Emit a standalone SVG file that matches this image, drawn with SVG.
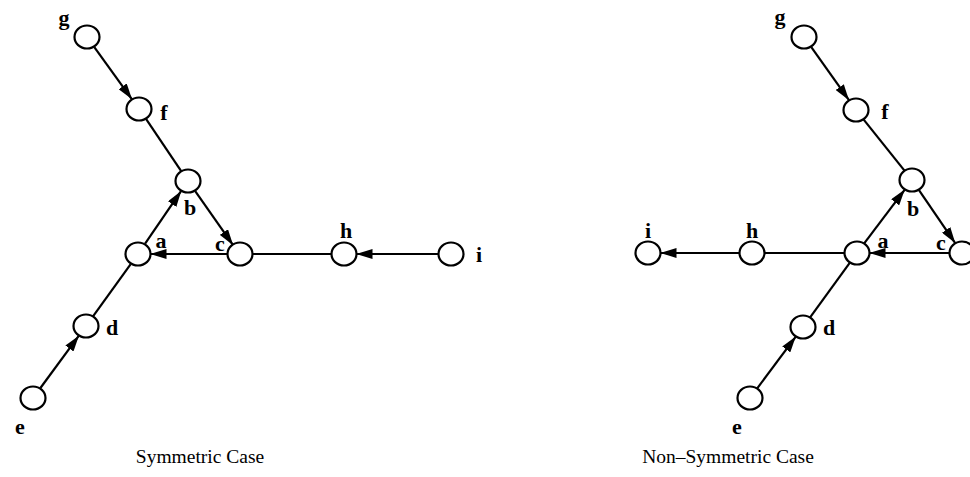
<svg xmlns="http://www.w3.org/2000/svg" width="970" height="477" viewBox="0 0 970 477">
<style>
.n{fill:#fff;stroke:#000;stroke-width:2.2}
.e{stroke:#000;stroke-width:2.2;fill:none}
.a{marker-end:url(#ah)}
.l{font-family:"Liberation Serif","Times New Roman",serif;font-weight:bold;font-size:22px;text-anchor:middle;fill:#000}
.cap{font-family:"Liberation Serif","Times New Roman",serif;font-size:19.5px;text-anchor:middle;fill:#000}
</style>
<defs>
<marker id="ah" markerUnits="userSpaceOnUse" markerWidth="16" markerHeight="10" refX="16" refY="5" orient="auto">
<path d="M0,0 L16,5 L0,10 z" fill="#000"/>
</marker>
</defs>
<rect width="970" height="477" fill="#fff"/>
<g id="connectors">
<line class="e a" x1="94.3" y1="47.1" x2="132" y2="99.3"/>
<line class="e" x1="146" y1="118.9" x2="181.2" y2="171.1"/>
<line class="e a" x1="195.2" y1="191.2" x2="233.1" y2="245.2"/>
<line class="e a" x1="227.5" y1="254" x2="150.5" y2="254"/>
<line class="e a" x1="145.1" y1="243.7" x2="181.2" y2="190.9"/>
<line class="e" x1="130.7" y1="264.1" x2="93" y2="316.3"/>
<line class="e a" x1="40.4" y1="388" x2="78.9" y2="335.7"/>
<line class="e" x1="252.5" y1="254" x2="331.5" y2="254"/>
<line class="e a" x1="438.5" y1="254" x2="356.5" y2="254"/>
<line class="e a" x1="811.3" y1="47.2" x2="849" y2="100.2"/>
<line class="e" x1="863.5" y1="119.4" x2="904.5" y2="170.6"/>
<line class="e a" x1="918.8" y1="189.9" x2="955.2" y2="243.1"/>
<line class="e a" x1="949.5" y1="253" x2="869.5" y2="253"/>
<line class="e a" x1="864.2" y1="243.4" x2="904.8" y2="189.6"/>
<line class="e" x1="849.9" y1="262.7" x2="810.1" y2="317.3"/>
<line class="e a" x1="757.2" y1="388.4" x2="795.8" y2="336.6"/>
<line class="e" x1="844.5" y1="253" x2="764.5" y2="253"/>
<line class="e a" x1="739.5" y1="253" x2="660.5" y2="253"/>
</g>
<g id="L-g"><ellipse class="n" cx="87" cy="37" rx="12.5" ry="11.5"/><text class="l" x="64" y="25">g</text></g>
<g id="L-f"><ellipse class="n" cx="139" cy="109" rx="12.5" ry="11.5"/><text class="l" x="164" y="120">f</text></g>
<g id="L-b"><ellipse class="n" cx="188" cy="181" rx="12.5" ry="11.5"/><text class="l" x="190" y="215">b</text></g>
<g id="L-a"><ellipse class="n" cx="138" cy="254" rx="12.5" ry="11.5"/><text class="l" x="161" y="248">a</text></g>
<g id="L-c"><ellipse class="n" cx="240" cy="254" rx="12.5" ry="11.5"/><text class="l" x="220" y="251">c</text></g>
<g id="L-h"><ellipse class="n" cx="344" cy="254" rx="12.5" ry="11.5"/><text class="l" x="346" y="238">h</text></g>
<g id="L-i"><ellipse class="n" cx="451" cy="254" rx="12.5" ry="11.5"/><text class="l" x="479" y="262">i</text></g>
<g id="L-d"><ellipse class="n" cx="86" cy="326" rx="12.5" ry="11.5"/><text class="l" x="112" y="335">d</text></g>
<g id="L-e"><ellipse class="n" cx="33" cy="398" rx="12.5" ry="11.5"/><text class="l" x="20" y="434">e</text></g>
<g id="R-g"><ellipse class="n" cx="804" cy="37" rx="12.5" ry="11.5"/><text class="l" x="780" y="24">g</text></g>
<g id="R-f"><ellipse class="n" cx="856" cy="110" rx="12.5" ry="11.5"/><text class="l" x="885" y="119">f</text></g>
<g id="R-b"><ellipse class="n" cx="912" cy="180" rx="12.5" ry="11.5"/><text class="l" x="913" y="216">b</text></g>
<g id="R-a"><ellipse class="n" cx="857" cy="253" rx="12.5" ry="11.5"/><text class="l" x="883" y="248">a</text></g>
<g id="R-c"><ellipse class="n" cx="962" cy="253" rx="12.5" ry="11.5"/><text class="l" x="941" y="250">c</text></g>
<g id="R-h"><ellipse class="n" cx="752" cy="253" rx="12.5" ry="11.5"/><text class="l" x="752" y="238">h</text></g>
<g id="R-i"><ellipse class="n" cx="648" cy="253" rx="12.5" ry="11.5"/><text class="l" x="648" y="238">i</text></g>
<g id="R-d"><ellipse class="n" cx="803" cy="327" rx="12.5" ry="11.5"/><text class="l" x="829" y="335">d</text></g>
<g id="R-e"><ellipse class="n" cx="750" cy="398" rx="12.5" ry="11.5"/><text class="l" x="737" y="434">e</text></g>
<text class="cap" x="200" y="463">Symmetric Case</text>
<text class="cap" x="728" y="463">Non–Symmetric Case</text>
</svg>
